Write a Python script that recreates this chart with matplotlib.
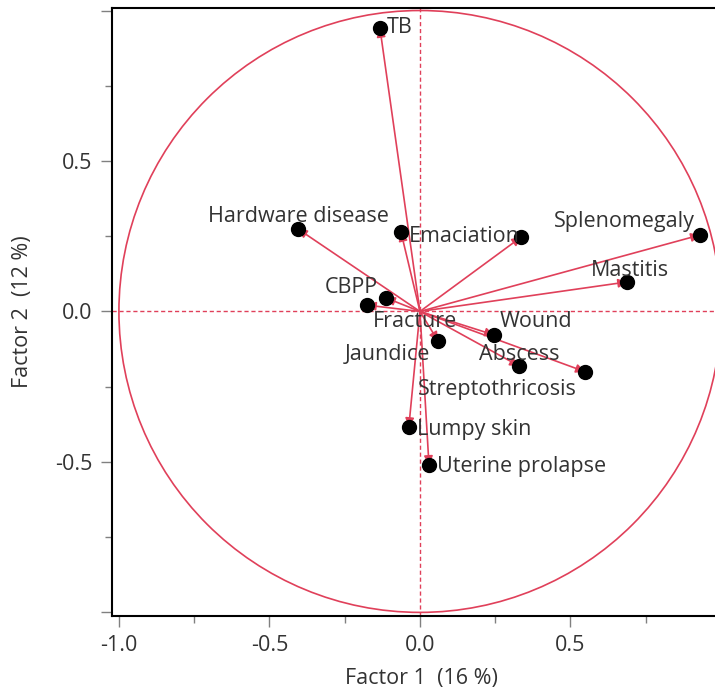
import matplotlib
matplotlib.use("Agg")
from matplotlib import pyplot as plt
from matplotlib.patches import Circle

plt.rcParams["font.family"] = ["Open Sans", "DejaVu Sans"]

# factor loadings
names = ["TB", "Hardware disease", "Emaciation", "", "Splenomegaly", "Mastitis",
         "CBPP", "Fracture", "Jaundice", "Wound", "Abscess", "Streptothricosis",
         "Lumpy skin", "Uterine prolapse"]
factor1 = [-0.133, -0.405, -0.063, 0.336, 0.930, 0.688,
           -0.176, -0.113, 0.060, 0.246, 0.329, 0.548,
           -0.037, 0.030]
factor2 = [0.942, 0.274, 0.264, 0.247, 0.254, 0.098,
           0.021, 0.045, -0.098, -0.078, -0.181, -0.200,
           -0.384, -0.510]

xlabel = "Factor 1  (16 %)"
ylabel = "Factor 2  (12 %)"

# label placement: (dx, dy) in pixels, horizontal alignment
placement = {
    "TB": (7, 0, "left"),
    "Hardware disease": (0, 12, "center"),
    "Emaciation": (8, -4, "left"),
    "Splenomegaly": (-5, 14, "right"),
    "Mastitis": (3, 11, "center"),
    "CBPP": (11, 18, "right"),
    "Fracture": (29, -24, "center"),
    "Jaundice": (-8, -14, "right"),
    "Wound": (6, 13, "left"),
    "Abscess": (0, 11, "center"),
    "Streptothricosis": (-8, -18, "right"),
    "Lumpy skin": (8, -2, "left"),
    "Uterine prolapse": (8, -2, "left"),
}

RED = "#e0405a"
TXT = "#333333"
FS = 15.5

fig = plt.figure(figsize=(7.15, 6.92), dpi=100)
ax = fig.add_axes([112 / 715, 76 / 692, 618 / 715, 608.5 / 692])
ax.set_xlim(-1.023, 1.03)
ax.set_ylim(-1.012, 1.01)

ax.add_patch(Circle((0, 0), 1.0, fill=False, edgecolor=RED, lw=1.2, zorder=2))
ax.axhline(0, color=RED, lw=1.0, ls=(0, (3, 2)), zorder=1)
ax.axvline(0, color=RED, lw=1.0, ls=(0, (3, 2)), zorder=1)

for name, x, y in zip(names, factor1, factor2):
    ax.annotate("", xy=(x, y), xytext=(0, 0),
                arrowprops=dict(arrowstyle="-|>", color=RED, lw=1.2,
                                mutation_scale=13, shrinkA=0, shrinkB=0),
                zorder=3)
ax.plot(factor1, factor2, "o", color="black", ms=10, zorder=4, ls="none")

for name, x, y in zip(names, factor1, factor2):
    if not name:
        continue
    dx, dy, ha = placement[name]
    ax.annotate(name, xy=(x, y), xytext=(dx, dy), textcoords="offset pixels",
                ha=ha, va="center", fontsize=FS, color=TXT, zorder=5)

ax.set_xticks([-1.0, -0.5, 0.0, 0.5, 1.0])
ax.set_xticklabels(["-1.0", "-0.5", "0.0", "0.5", ""])
ax.set_xticks([-0.75, -0.25, 0.25, 0.75], minor=True)
ax.set_yticks([-1.0, -0.5, 0.0, 0.5, 1.0])
ax.set_yticklabels(["", "-0.5", "0.0", "0.5", ""])
ax.set_yticks([-0.75, -0.25, 0.25, 0.75], minor=True)
ax.tick_params(which="major", length=8, width=1, color="#808080",
               labelsize=FS, labelcolor=TXT, pad=6)
ax.tick_params(which="minor", length=5, width=1, color="#808080")

for side in ["left", "bottom", "top"]:
    ax.spines[side].set_linewidth(1.5)
    ax.spines[side].set_color("black")
ax.spines["right"].set_visible(False)

ax.set_xlabel(xlabel, fontsize=FS, color=TXT, labelpad=8)
ax.set_ylabel(ylabel, fontsize=FS, color=TXT, labelpad=16)

fig.savefig("out.png", dpi=100)
